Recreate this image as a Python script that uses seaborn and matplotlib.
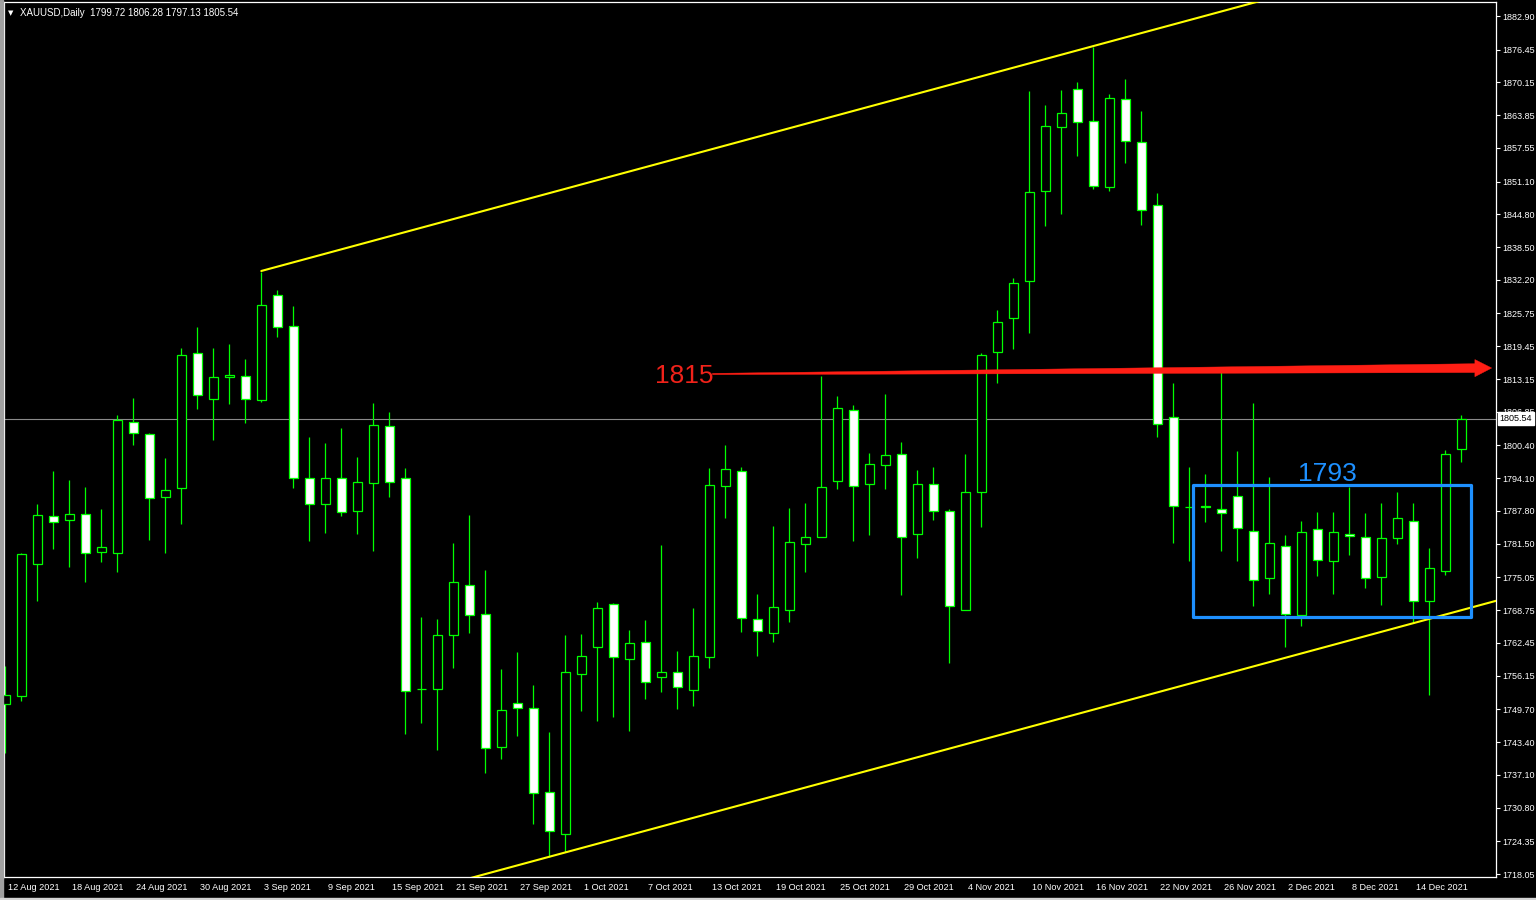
import matplotlib
matplotlib.use("Agg")
import matplotlib.pyplot as plt
import matplotlib.transforms as mtransforms
from matplotlib.patches import Rectangle, Polygon
import numpy as np
import seaborn as sns

# ---------------- data ----------------
opens = [1750.72, 1752.31, 1777.67, 1786.78, 1786.01, 1787.17, 1779.86, 1779.67, 1804.84, 1802.54,
         1790.43, 1792.16, 1818.10, 1809.26, 1813.49, 1813.68, 1809.07, 1829.24, 1823.28, 1794.08,
         1789.09, 1794.08, 1787.74, 1793.12, 1804.07, 1794.08, 1753.66, 1753.66, 1764.03, 1773.52,
         1767.95, 1742.52, 1750.85, 1749.89, 1733.76, 1725.69, 1756.43, 1761.73, 1769.87, 1759.31,
         1762.57, 1755.85, 1756.81, 1753.35, 1759.69, 1792.55, 1795.43, 1766.99, 1764.30, 1768.72,
         1781.40, 1782.75, 1793.51, 1807.15, 1792.93, 1796.58, 1798.69, 1783.32, 1792.93, 1787.74,
         1768.72, 1791.39, 1818.29, 1824.82, 1831.93, 1849.22, 1861.52, 1868.82, 1862.67, 1849.99,
         1866.90, 1858.64, 1846.53, 1805.80, 1788.51, 1788.82, 1788.24, 1790.62, 1784.01, 1774.87,
         1781.13, 1767.76, 1784.40, 1778.14, 1783.32, 1782.75, 1775.06, 1782.55, 1785.94, 1770.45,
         1776.21, 1799.72]
highs = [1758.02, 1779.73, 1789.14, 1795.48, 1793.76, 1792.41, 1788.18, 1806.24, 1809.51, 1802.73,
         1797.98, 1819.12, 1823.15, 1819.12, 1819.88, 1817.00, 1833.72, 1830.20, 1827.13, 1802.02,
         1800.86, 1803.75, 1798.17, 1808.55, 1806.82, 1796.00, 1767.38, 1767.05, 1781.59, 1786.97,
         1776.41, 1757.44, 1760.71, 1754.37, 1745.34, 1763.98, 1764.17, 1770.32, 1770.12, 1764.94,
         1766.86, 1781.27, 1760.90, 1769.16, 1796.06, 1800.48, 1796.20, 1771.80, 1784.92, 1788.38,
         1789.34, 1813.74, 1809.89, 1808.16, 1798.94, 1810.28, 1801.06, 1795.68, 1796.25, 1788.18,
         1798.75, 1818.10, 1826.42, 1832.56, 1868.49, 1865.80, 1868.68, 1870.22, 1877.00, 1867.91,
         1870.80, 1864.65, 1848.84, 1812.33, 1796.25, 1794.85, 1814.45, 1799.33, 1808.55, 1794.27,
         1783.13, 1785.82, 1787.55, 1787.55, 1792.41, 1787.36, 1789.28, 1791.39, 1789.28, 1780.63,
         1799.46, 1806.28]
lows = [1741.31, 1751.35, 1770.57, 1780.44, 1777.10, 1774.22, 1778.06, 1776.14, 1800.54, 1782.29,
        1779.79, 1785.36, 1807.45, 1801.50, 1808.41, 1804.76, 1808.68, 1821.17, 1792.16, 1782.09,
        1783.63, 1786.90, 1783.44, 1780.17, 1790.55, 1745.01, 1747.13, 1741.94, 1757.69, 1764.42,
        1737.52, 1740.21, 1744.63, 1727.72, 1721.38, 1722.34, 1749.43, 1747.51, 1748.28, 1745.59,
        1751.74, 1753.08, 1749.82, 1750.39, 1757.69, 1786.51, 1764.61, 1760.00, 1762.69, 1766.53,
        1776.14, 1782.75, 1792.08, 1782.09, 1783.25, 1792.08, 1771.72, 1778.83, 1786.13, 1758.65,
        1768.72, 1784.78, 1812.33, 1818.98, 1822.06, 1842.61, 1844.92, 1856.06, 1849.61, 1849.34,
        1854.72, 1842.80, 1802.07, 1781.71, 1778.25, 1785.74, 1780.17, 1778.25, 1769.61, 1771.91,
        1761.73, 1765.76, 1775.37, 1771.91, 1779.40, 1773.06, 1769.80, 1781.52, 1766.42, 1752.51,
        1775.45, 1797.13]
closes = [1752.45, 1779.48, 1787.03, 1785.63, 1787.17, 1779.67, 1780.83, 1805.28, 1802.73, 1790.24,
          1791.78, 1817.71, 1810.03, 1813.49, 1813.87, 1809.26, 1827.32, 1823.09, 1794.08, 1789.09,
          1794.08, 1787.55, 1793.31, 1804.26, 1793.31, 1753.16, 1753.66, 1763.92, 1774.10, 1767.76,
          1742.21, 1749.51, 1749.89, 1733.56, 1726.26, 1756.81, 1759.88, 1769.11, 1759.69, 1762.38,
          1754.89, 1756.81, 1753.93, 1759.88, 1792.74, 1795.81, 1767.18, 1764.69, 1769.30, 1781.79,
          1782.75, 1792.35, 1807.53, 1792.55, 1796.77, 1798.50, 1782.75, 1792.93, 1787.74, 1769.49,
          1791.39, 1817.71, 1824.05, 1831.55, 1849.03, 1861.71, 1864.21, 1862.48, 1850.18, 1867.09,
          1858.83, 1845.57, 1804.46, 1788.70, 1788.51, 1788.57, 1787.36, 1784.48, 1774.49, 1781.59,
          1767.95, 1783.71, 1778.33, 1783.82, 1782.94, 1774.87, 1782.55, 1786.40, 1770.45, 1776.79,
          1798.81, 1805.54]

date_labels = ["12 Aug 2021", "18 Aug 2021", "24 Aug 2021", "30 Aug 2021", "3 Sep 2021",
               "9 Sep 2021", "15 Sep 2021", "21 Sep 2021", "27 Sep 2021", "1 Oct 2021",
               "7 Oct 2021", "13 Oct 2021", "19 Oct 2021", "25 Oct 2021", "29 Oct 2021",
               "4 Nov 2021", "10 Nov 2021", "16 Nov 2021", "22 Nov 2021", "26 Nov 2021",
               "2 Dec 2021", "8 Dec 2021", "14 Dec 2021"]
date_every = 4  # a label every 4 daily bars

price_ticks = [1882.90, 1876.45, 1870.15, 1863.85, 1857.55, 1851.10, 1844.80, 1838.50, 1832.20,
               1825.75, 1819.45, 1813.15, 1806.85, 1800.40, 1794.10, 1787.80, 1781.50, 1775.05,
               1768.75, 1762.45, 1756.15, 1749.70, 1743.40, 1737.10, 1730.80, 1724.35, 1718.05]

symbol_header = "XAUUSD,Daily  1799.72 1806.28 1797.13 1805.54"

# drawn objects (analysis annotations)
channel_start_bar, channel_start_price, channel_slope = 16, 1833.91, 0.831
channel_width = 127.5
level_1815 = "1815"
arrow_start = (44.2, 1814.12)
arrow_tip = (92.9, 1815.27)
level_1793 = "1793"
box_bars = (74.23, 91.6)
box_prices = (1767.43, 1792.79)

# ---------------- style ----------------
sns.set_theme(style="dark", rc={"axes.facecolor": "black", "figure.facecolor": "black",
                                "axes.grid": False})
plt.rcParams['font.family'] = ['Liberation Sans', 'DejaVu Sans']

W, H = 1536, 900
fig = plt.figure(figsize=(W / 100, H / 100), dpi=100, facecolor='black')
left_px, right_px, top_px, bottom_px = 4, 1496, 2, 877
ax = fig.add_axes([left_px / W, (H - bottom_px) / H, (right_px - left_px) / W, (bottom_px - top_px) / H])
ax.set_facecolor('black')

GREEN = '#00FF00'
n = len(opens)
x = np.arange(n)
o = np.array(opens); c = np.array(closes)
ax.vlines(x, lows, highs, color=GREEN, lw=0.9, zorder=2)
bottoms = np.minimum(o, c)
heights = np.abs(c - o)
fills = ['white' if cc < oo else 'black' for oo, cc in zip(o, c)]
ax.bar(x, heights, bottom=bottoms, width=0.58, color=fills, edgecolor=GREEN,
       linewidth=0.9, zorder=3)

# current price line
ax.axhline(closes[-1], color='#8a8a8a', lw=0.8, zorder=1)

# channel lines
xs_up = np.array([channel_start_bar, 110])
ax.plot(xs_up, channel_start_price + channel_slope * (xs_up - channel_start_bar),
        color='#FFFF00', lw=1.5, zorder=4)
xs_lo = np.array([-10, 110])
ax.plot(xs_lo, channel_start_price - channel_width + channel_slope * (xs_lo - channel_start_bar),
        color='#FFFF00', lw=1.5, zorder=4)

# red tapered arrow
RED = '#FF1E14'
x0, y0 = arrow_start
xt, yt = arrow_tip
head_len = 1.05
xb = xt - head_len
yb = y0 + (yt - y0) * (xb - x0) / (xt - x0)
t0, t1, hh = 0.12, 0.85, 1.65
poly = Polygon([(x0, y0 + t0), (xb, yb + t1), (xb, yb + hh), (xt, yt),
                (xb, yb - hh), (xb, yb - t1), (x0, y0 - t0)], closed=True,
               facecolor=RED, edgecolor=RED, lw=0.3, zorder=6)
ax.add_patch(poly)
ax.text(42.42, 1812.30, level_1815, color='#F0221A', fontsize=19, ha='center', va='baseline',
        family=['Liberation Sans Narrow', 'Liberation Sans', 'DejaVu Sans'], zorder=7)

# blue box
BLUE = '#1E90FF'
ax.add_patch(Rectangle((box_bars[0], box_prices[0]), box_bars[1] - box_bars[0],
                       box_prices[1] - box_prices[0], fill=False, edgecolor=BLUE, lw=2.3,
                       joinstyle='round', zorder=6))
ax.text(82.63, 1793.56, level_1793, color=BLUE, fontsize=19, ha='center', va='baseline',
        family=['Liberation Sans Narrow', 'Liberation Sans', 'DejaVu Sans'], zorder=7)

# axes limits
ax.set_xlim(-0.08, 93.17)
ax.set_ylim(1717.48, 1885.59)

# spines
for s in ax.spines.values():
    s.set_color('white')
    s.set_linewidth(0.9)
    s.set_visible(True)

# y axis on right
ax.yaxis.tick_right()
ax.set_yticks(price_ticks)
ax.set_yticklabels([f"{v:.2f}" for v in price_ticks])
ax.tick_params(axis='y', colors='white', labelcolor='white', labelsize=6.5, length=3,
               width=0.8, direction='out', pad=1.2, left=False, right=True)

# x axis dates
xpos = [i * date_every for i in range(len(date_labels))]
ax.set_xticks(xpos)
ax.set_xticklabels(date_labels)
ax.tick_params(axis='x', colors='white', labelcolor='white', labelsize=6.6, length=3,
               width=0.8, direction='out', pad=1.5)
offset = mtransforms.ScaledTranslation(3 / 100, 0, fig.dpi_scale_trans)
for lbl in ax.get_xticklabels():
    lbl.set_horizontalalignment('left')
    lbl.set_transform(lbl.get_transform() + offset)

# current price tag
blend = mtransforms.blended_transform_factory(ax.transAxes, ax.transData)
ax.annotate(f"{closes[-1]:.2f}", xy=(1.0, closes[-1]), xycoords=blend, xytext=(2.5, 0),
            textcoords='offset points', ha='left', va='center', fontsize=6.5, color='black',
            bbox=dict(boxstyle='square,pad=0.2', fc='white', ec='white'),
            annotation_clip=False, zorder=20)

# header
fig.text(8 / W, 1 - 13 / H, '\u25BC', color='white', fontsize=5, va='center', ha='left',
         family=['DejaVu Sans'])
fig.text(20 / W, 1 - 13 / H, symbol_header, color='white', fontsize=7, va='center', ha='left')

# window borders
fig.patches.append(Rectangle((0, 0), 3 / W, 1, transform=fig.transFigure, color='#a0a0a0', zorder=0))
fig.patches.append(Rectangle((0, 0), 1, 2 / H, transform=fig.transFigure, color='#d4d4d4', zorder=0))

fig.savefig('out.png', dpi=100, facecolor='black')
